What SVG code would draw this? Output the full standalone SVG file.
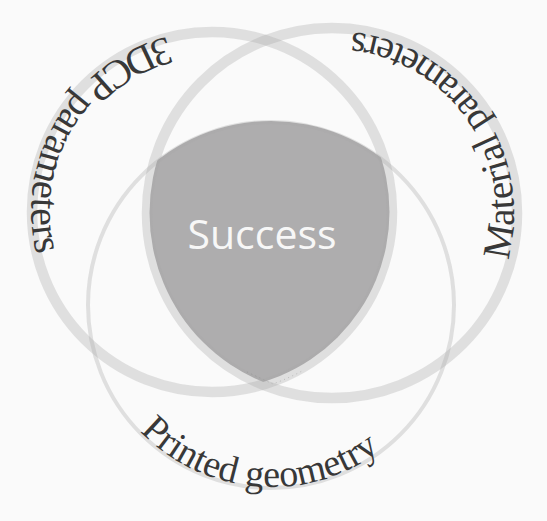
<svg xmlns="http://www.w3.org/2000/svg" width="547" height="521" viewBox="0 0 547 521">
  <style>
    .ring { fill: none; stroke: #a8a8a8; stroke-opacity: 0.32; }
    .thick { stroke-width: 10.5; }
    .thin { stroke-width: 4; }
    .lbl { font-family: "Liberation Serif", "Times New Roman", serif; font-size: 38px; fill: #383838; }
    .succ { font-family: "Open Sans", "Noto Sans", sans-serif; font-size: 41px; fill: #f7f7f7; }
  </style>
  <defs>
    <clipPath id="clipLeft"><circle cx="212" cy="212" r="177.5"/></clipPath>
    <clipPath id="clipRight"><circle cx="332" cy="213" r="182.5"/></clipPath>
    <path id="pLeft" d="M165.15,37.2 A181,181 0 0 0 180.6,390.2"/>
    <path id="pRight" d="M507.8,260.1 A182,182 0 0 0 300.4,33.8"/>
    <path id="pBottom" d="M140.1,431.4 A182,182 0 0 0 410.4,422"/>
  </defs>
  <rect width="547" height="521" fill="#fafafa"/>

  <g id="success">
    <g clip-path="url(#clipLeft)">
      <g clip-path="url(#clipRight)">
        <circle cx="271" cy="305" r="184" fill="#aeadae"/>
      </g>
    </g>
    <path d="M247,372 Q262,379 273,384 Q289,378 304,370" fill="none" stroke="#7a7a7a" stroke-width="0.8" stroke-dasharray="1 3.5" opacity="0.6"/>
    <text class="succ" x="262" y="249" text-anchor="middle">Success</text>
  </g>

  <g id="connectors">
    <circle id="ring-3dcp" class="ring thick" cx="212" cy="212" r="180"/>
    <circle id="ring-material" class="ring thick" cx="332" cy="213" r="185"/>
    <circle id="ring-geometry" class="ring thin" cx="271" cy="305" r="183"/>
  </g>

  <g id="node-3dcp">
    <text class="lbl" style="font-size:40px"><textPath href="#pLeft" startOffset="-2">3DCP parameters</textPath></text>
  </g>
  <g id="node-material">
    <text class="lbl" style="font-size:39px"><textPath href="#pRight" startOffset="0">Material parameters</textPath></text>
  </g>
  <g id="node-geometry">
    <text class="lbl"><textPath href="#pBottom" startOffset="0">Printed geometry</textPath></text>
  </g>
</svg>
